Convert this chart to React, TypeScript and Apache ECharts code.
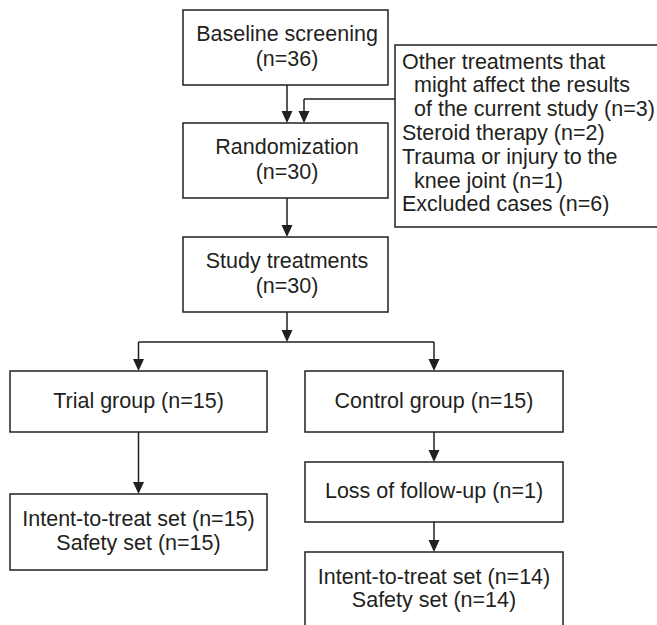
import React, { useEffect, useRef } from "react";
import * as echarts from "echarts";

// ---- data ----
const mainSteps = ["Baseline screening", "Randomization", "Study treatments"];
const mainCounts = [36, 30, 30];
const exclusionLines = [
  "Other treatments that",
  "might affect the results",
  "of the current study (n=3)",
  "Steroid therapy (n=2)",
  "Trauma or injury to the",
  "knee joint (n=1)",
  "Excluded cases (n=6)",
];
const exclusionIndent = [false, true, true, false, false, true, false];
const groupNames = ["Trial group", "Control group"];
const groupCounts = [15, 15];
const lossLabel = "Loss of follow-up";
const lossCount = 1;
const ittCounts = [15, 14];
const safetyCounts = [15, 14];

const INK = "#231f20";
const FONT = '21.5px "Liberation Sans", Arial, Helvetica, sans-serif';
const LW = 1.5;

function box(x: number, y: number, w: number, h: number) {
  return {
    type: "rect",
    shape: { x, y, width: w, height: h },
    style: { fill: "#fff", stroke: INK, lineWidth: LW },
    z: 1,
  };
}
function line(x1: number, y1: number, x2: number, y2: number) {
  return {
    type: "line",
    shape: { x1, y1, x2, y2 },
    style: { stroke: INK, lineWidth: LW },
    z: 2,
  };
}
function head(x: number, y: number) {
  return {
    type: "polygon",
    shape: { points: [[x - 5.5, y - 12], [x + 5.5, y - 12], [x, y]] },
    style: { fill: INK },
    z: 3,
  };
}
function arrow(x: number, y1: number, y2: number) {
  return [line(x, y1, x, y2 - 6), head(x, y2)];
}
function text(t: string, x: number, y: number, align: string = "center") {
  return {
    type: "text",
    x,
    y,
    z: 4,
    style: { text: t, font: FONT, fill: INK, align, verticalAlign: "middle" },
  };
}

export default function App() {
  const ref = useRef<HTMLDivElement>(null);
  useEffect(() => {
    if (!ref.current) return;
    const chart = echarts.init(ref.current, null, { renderer: "svg" });
    const els: any[] = [];
    // main column
    const mainX = 183, mainW = 205, mainCx = 287;
    const mainY = [10, 123, 237];
    const mainH = 75;
    mainSteps.forEach((s, i) => {
      els.push(box(mainX, mainY[i], mainW, mainH));
      const cy = mainY[i] + mainH / 2;
      els.push(text(s, mainCx, cy - 14));
      els.push(text(`(n=${mainCounts[i]})`, mainCx, cy + 11));
    });
    els.push(...arrow(mainCx, mainY[0] + mainH, mainY[1]));
    els.push(...arrow(mainCx, mainY[1] + mainH, mainY[2]));
    // exclusion box
    els.push(box(395, 45, 290, 182));
    exclusionLines.forEach((l, i) => {
      els.push(text(l, exclusionIndent[i] ? 414 : 402, 61.5 + i * 23.8, "left"));
    });
    els.push(line(395, 99, 304, 99));
    els.push(...arrow(304, 99, 123));
    // branch
    const branchY = 342;
    const gx = [10, 305], gw = [257, 258], gcx = [138.5, 434];
    els.push(...arrow(mainCx, mainY[2] + mainH, branchY));
    els.push(line(gcx[0], branchY, gcx[1], branchY));
    gcx.forEach((cx) => els.push(...arrow(cx, branchY, 371)));
    groupNames.forEach((g, i) => {
      els.push(box(gx[i], 371, gw[i], 61));
      els.push(text(`${g} (n=${groupCounts[i]})`, gcx[i], 400.5));
    });
    // trial branch
    els.push(...arrow(gcx[0], 432, 494));
    els.push(box(gx[0], 494, gw[0], 76));
    els.push(text(`Intent-to-treat set (n=${ittCounts[0]})`, gcx[0], 519));
    els.push(text(`Safety set (n=${safetyCounts[0]})`, gcx[0], 543));
    // control branch
    els.push(...arrow(gcx[1], 432, 462));
    els.push(box(gx[1], 462, gw[1], 60));
    els.push(text(`${lossLabel} (n=${lossCount})`, gcx[1], 491));
    els.push(...arrow(gcx[1], 522, 552));
    els.push(box(gx[1], 552, gw[1], 100));
    els.push(text(`Intent-to-treat set (n=${ittCounts[1]})`, gcx[1], 577));
    els.push(text(`Safety set (n=${safetyCounts[1]})`, gcx[1], 600));

    chart.setOption({
      animation: false,
      backgroundColor: "#fff",
      graphic: { elements: els },
    });
    return () => chart.dispose();
  }, []);
  return (
    <div
      ref={ref}
      style={{ position: "fixed", left: 0, top: 0, width: 657, height: 625, background: "#fff" }}
    />
  );
}
